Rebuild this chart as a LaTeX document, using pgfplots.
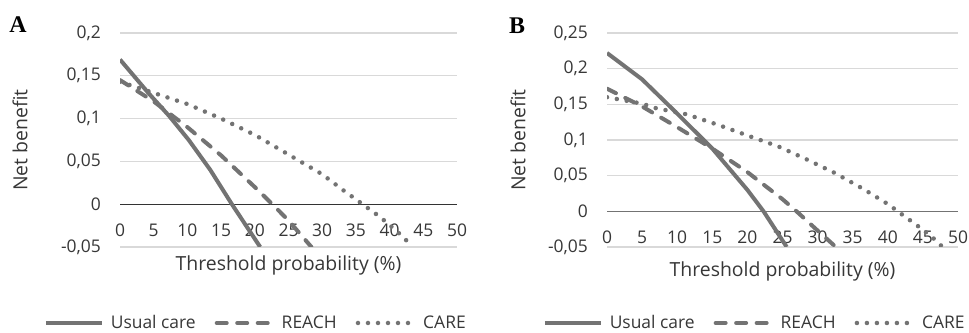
\documentclass[border=0pt]{standalone}
\usepackage{pgfplots}
\pgfplotsset{compat=1.18}
\usepackage{fontspec}
\setmainfont{Open Sans}
\newfontfamily\lettfont{Liberation Serif}
\definecolor{serie}{RGB}{115,115,115}
\definecolor{gridc}{RGB}{217,217,217}
\definecolor{txt}{RGB}{55,55,55}
\pgfplotsset{
 dca/.style={
  scale only axis, height=214bp,
  xmin=0, xmax=50,
  axis line style={draw=none},
  tick style={draw=none},
  ymajorgrids, grid style={gridc, line width=1.3bp},
  xtick={0,5,10,15,20,25,30,35,40,45,50},
  xticklabels={0,5,10,15,20,25,30,35,40,45,50},
  tick label style={font=\fontsize{17.5}{20}\selectfont, text=txt},
  yticklabel style={anchor=east, inner sep=0pt, xshift=-19bp},
  label style={font=\fontsize{19.5}{23}\selectfont, text=txt},
  legend columns=-1,
  legend style={draw=none, fill=none, inner sep=0pt, font=\fontsize{17.5}{20}\selectfont, text=txt,
    nodes={inner sep=0pt},
    /tikz/every odd column/.append style={column sep=7bp},
    /tikz/every even column/.append style={column sep=19bp}, anchor=center},
  legend image code/.code={\draw (0bp,0bp) -- (56bp,0bp);},
 },
 uc/.style={serie, line width=4bp},
 re/.style={serie, line width=4bp, dash pattern=on 10bp off 10.5bp, line cap=round},
 ca/.style={serie, line width=4.5bp, dash pattern=on 0bp off 10bp, line cap=round},
}
\begin{document}
\begin{tikzpicture}
\useasboundingbox (0,0) rectangle (969bp,333bp);
% Panel A
\begin{axis}[dca, at={(120bp,86bp)}, anchor=south west, width=337bp,
  ymin=-0.05, ymax=0.2,
  ytick={-0.05,0,0.05,0.1,0.15,0.2},
  yticklabels={{-0,05},{0},{0,05},{0,1},{0,15},{0,2}},
  xticklabel style={anchor=center, yshift=17bp},
  xlabel={Threshold probability (\%)},
  xlabel style={at={(axis description cs:0.5,-0.0841)}, anchor=center},
  ylabel={Net benefit},
  ylabel style={at={(axis description cs:-0.2967,0.5)}, anchor=center, rotate=0},
  legend style={at={(axis description cs:0.40,-0.3551)}},
]
\addplot[forget plot, black!80, line width=1bp] coordinates {(0,0) (50,0)};
\addplot[uc] coordinates {(0,0.169) (4.2,0.130) (7.3,0.103) (10.2,0.075) (13.4,0.040) (16.6,0) (20.8,-0.05)};
\addplot[re] coordinates {(0,0.145) (5,0.120) (10,0.090) (15,0.057) (20,0.020) (22.6,0) (25,-0.019) (28.4,-0.05)};
\addplot[ca] coordinates {(0,0.143) (5,0.130) (10,0.117) (15,0.100) (20,0.081) (25,0.058) (30,0.035) (33,0.017) (36,0) (38.6,-0.015) (41,-0.031) (43.5,-0.05)};
\addlegendentry{Usual care}
\addlegendentry{REACH}
\addlegendentry{CARE}
\end{axis}
% Panel B
\begin{axis}[dca, at={(607bp,86bp)}, anchor=south west, width=351bp,
  ymin=-0.05, ymax=0.25,
  ytick={-0.05,0,0.05,0.1,0.15,0.2,0.25},
  yticklabels={{-0,05},{0},{0,05},{0,1},{0,15},{0,2},{0,25}},
  xticklabel style={anchor=center, yshift=10bp},
  xlabel={Threshold probability (\%)},
  xlabel style={at={(axis description cs:0.5,-0.1121)}, anchor=center},
  ylabel={Net benefit},
  ylabel style={at={(axis description cs:-0.2536,0.5)}, anchor=center, rotate=0},
  legend style={at={(axis description cs:0.418,-0.3551)}},
]
\addplot[forget plot, black!55, line width=1.5bp] coordinates {(0,0) (50,0)};
\addplot[uc] coordinates {(0,0.222) (5,0.185) (10,0.137) (15,0.088) (20,0.030) (22.3,0) (25.6,-0.05)};
\addplot[re] coordinates {(0,0.172) (5,0.147) (10,0.118) (15,0.088) (20,0.055) (25,0.017) (27,0) (30,-0.027) (32.6,-0.05)};
\addplot[ca] coordinates {(0,0.160) (5,0.151) (6.8,0.145) (11.35,0.136) (15.9,0.121) (20.1,0.106) (24.4,0.091) (28.4,0.073) (32.4,0.054) (36.4,0.032) (40.2,0.009) (41.4,0) (43.8,-0.017) (46.2,-0.035) (47.8,-0.05)};
\addlegendentry{Usual care}
\addlegendentry{REACH}
\addlegendentry{CARE}
\end{axis}
\node[font=\lettfont\bfseries\fontsize{24}{26}\selectfont] at (18bp,308bp) {A};
\node[font=\lettfont\bfseries\fontsize{24}{26}\selectfont] at (517bp,307bp) {B};
\end{tikzpicture}
\end{document}
